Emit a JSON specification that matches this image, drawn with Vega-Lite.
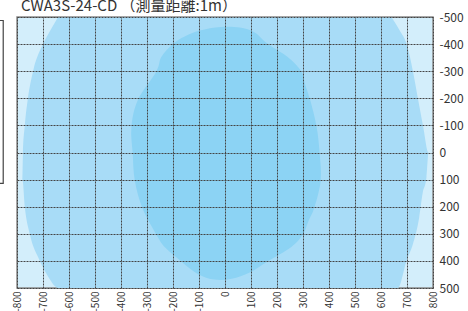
{
  "$schema": "https://vega.github.io/schema/vega-lite/v6.json",
  "width": 416,
  "height": 271,
  "autosize": {"type": "none"},
  "padding": {"left": 17, "top": 17, "right": 35, "bottom": 23},
  "background": "white",
  "title": {
    "text": "CWA3S-24-CD （測量距離:1m）",
    "anchor": "start",
    "frame": "group",
    "font": "Noto Sans CJK JP",
    "fontSize": 15,
    "fontWeight": "normal",
    "color": "#333333",
    "offset": 4,
    "dx": 4,
    "dy": 7
  },
  "datasets": {
    "contours": [
      {"region": "mid", "i": 1, "x": -642, "y": -500},
      {"region": "mid", "i": 2, "x": -672, "y": -450},
      {"region": "mid", "i": 3, "x": -700, "y": -400},
      {"region": "mid", "i": 4, "x": -738, "y": -300},
      {"region": "mid", "i": 5, "x": -758, "y": -200},
      {"region": "mid", "i": 6, "x": -770, "y": -100},
      {"region": "mid", "i": 7, "x": -777, "y": 0},
      {"region": "mid", "i": 8, "x": -779, "y": 100},
      {"region": "mid", "i": 9, "x": -770, "y": 200},
      {"region": "mid", "i": 10, "x": -751, "y": 300},
      {"region": "mid", "i": 11, "x": -712, "y": 400},
      {"region": "mid", "i": 12, "x": -685, "y": 450},
      {"region": "mid", "i": 13, "x": -640, "y": 500},
      {"region": "mid", "i": 14, "x": 665, "y": 500},
      {"region": "mid", "i": 15, "x": 698, "y": 400},
      {"region": "mid", "i": 16, "x": 723, "y": 337},
      {"region": "mid", "i": 17, "x": 747, "y": 239},
      {"region": "mid", "i": 18, "x": 760, "y": 151},
      {"region": "mid", "i": 19, "x": 775, "y": 91},
      {"region": "mid", "i": 20, "x": 783, "y": 0},
      {"region": "mid", "i": 21, "x": 762, "y": -97},
      {"region": "mid", "i": 22, "x": 742, "y": -199},
      {"region": "mid", "i": 23, "x": 723, "y": -299},
      {"region": "mid", "i": 24, "x": 698, "y": -401},
      {"region": "mid", "i": 25, "x": 672, "y": -450},
      {"region": "mid", "i": 26, "x": 640, "y": -500},
      {"region": "inner", "i": 1, "x": -97, "y": -450},
      {"region": "inner", "i": 2, "x": -17, "y": -463},
      {"region": "inner", "i": 3, "x": 57, "y": -461},
      {"region": "inner", "i": 4, "x": 114, "y": -443},
      {"region": "inner", "i": 5, "x": 164, "y": -401},
      {"region": "inner", "i": 6, "x": 241, "y": -352},
      {"region": "inner", "i": 7, "x": 294, "y": -299},
      {"region": "inner", "i": 8, "x": 307, "y": -255},
      {"region": "inner", "i": 9, "x": 326, "y": -199},
      {"region": "inner", "i": 10, "x": 352, "y": -97},
      {"region": "inner", "i": 11, "x": 364, "y": 3},
      {"region": "inner", "i": 12, "x": 368, "y": 103},
      {"region": "inner", "i": 13, "x": 345, "y": 199},
      {"region": "inner", "i": 14, "x": 322, "y": 251},
      {"region": "inner", "i": 15, "x": 299, "y": 303},
      {"region": "inner", "i": 16, "x": 255, "y": 349},
      {"region": "inner", "i": 17, "x": 164, "y": 402},
      {"region": "inner", "i": 18, "x": 95, "y": 443},
      {"region": "inner", "i": 19, "x": 26, "y": 466},
      {"region": "inner", "i": 20, "x": -40, "y": 469},
      {"region": "inner", "i": 21, "x": -105, "y": 448},
      {"region": "inner", "i": 22, "x": -168, "y": 402},
      {"region": "inner", "i": 23, "x": -232, "y": 349},
      {"region": "inner", "i": 24, "x": -264, "y": 303},
      {"region": "inner", "i": 25, "x": -317, "y": 207},
      {"region": "inner", "i": 26, "x": -347, "y": 103},
      {"region": "inner", "i": 27, "x": -355, "y": 4},
      {"region": "inner", "i": 28, "x": -360, "y": -92},
      {"region": "inner", "i": 29, "x": -336, "y": -192},
      {"region": "inner", "i": 30, "x": -264, "y": -299},
      {"region": "inner", "i": 31, "x": -245, "y": -352},
      {"region": "inner", "i": 32, "x": -200, "y": -401},
      {"region": "inner", "i": 33, "x": -155, "y": -428}
    ],
    "box": [
      {"x": -900, "x2": -853, "y": -487, "y2": 114}
    ]
  },
  "layer": [
    {
      "data": {"name": "contours"},
      "transform": [{"filter": "datum.region === 'mid'"}],
      "mark": {"type": "line", "fill": "#a8dcf7", "stroke": null, "strokeWidth": 0, "interpolate": "monotone"},
      "encoding": {
        "x": {"field": "x", "type": "quantitative"},
        "y": {"field": "y", "type": "quantitative"},
        "order": {"field": "i", "type": "quantitative"}
      }
    },
    {
      "data": {"name": "contours"},
      "transform": [{"filter": "datum.region === 'inner'"}],
      "mark": {"type": "line", "fill": "#8cd3f4", "stroke": null, "strokeWidth": 0, "interpolate": "cardinal-closed"},
      "encoding": {
        "x": {"field": "x", "type": "quantitative"},
        "y": {"field": "y", "type": "quantitative"},
        "order": {"field": "i", "type": "quantitative"}
      }
    },
    {
      "data": {"name": "box"},
      "mark": {"type": "rect", "fill": null, "stroke": "#444444", "strokeWidth": 1.2},
      "encoding": {
        "x": {"field": "x", "type": "quantitative"},
        "x2": {"field": "x2"},
        "y": {"field": "y", "type": "quantitative"},
        "y2": {"field": "y2"}
      }
    }
  ],
  "encoding": {
    "x": {
      "field": "x",
      "type": "quantitative",
      "scale": {"domain": [-800, 800], "nice": false, "zero": false},
      "axis": {
        "title": null,
        "orient": "bottom",
        "values": [-800, -700, -600, -500, -400, -300, -200, -100, 0, 100, 200, 300, 400, 500, 600, 700, 800],
        "labelExpr": "'' + datum.value",
        "labelAngle": -90,
        "labelFont": "Noto Sans CJK JP",
        "labelFontSize": 10,
        "labelColor": "#333333",
        "labelPadding": 3,
        "ticks": false,
        "domain": false,
        "grid": true,
        "gridColor": "#444444",
        "gridDash": [2, 1],
        "gridWidth": 1,
        "gridOpacity": 1,
        "labelOverlap": false,
        "labelFlush": false,
        "zindex": 1
      }
    },
    "y": {
      "field": "y",
      "type": "quantitative",
      "scale": {"domain": [-500, 500], "nice": false, "zero": false, "reverse": true},
      "axis": {
        "title": null,
        "orient": "right",
        "values": [-500, -400, -300, -200, -100, 0, 100, 200, 300, 400, 500],
        "labelExpr": "'' + datum.value",
        "labelFont": "Noto Sans CJK JP",
        "labelFontSize": 12,
        "labelColor": "#333333",
        "labelPadding": 6,
        "ticks": false,
        "domain": false,
        "grid": true,
        "gridColor": "#444444",
        "gridDash": [2, 1],
        "gridWidth": 1,
        "gridOpacity": 1,
        "labelOverlap": false,
        "labelFlush": false,
        "zindex": 1
      }
    }
  },
  "config": {
    "view": {"fill": "#d3eefb", "stroke": "#8a8a8a", "strokeWidth": 1.5}
  }
}
